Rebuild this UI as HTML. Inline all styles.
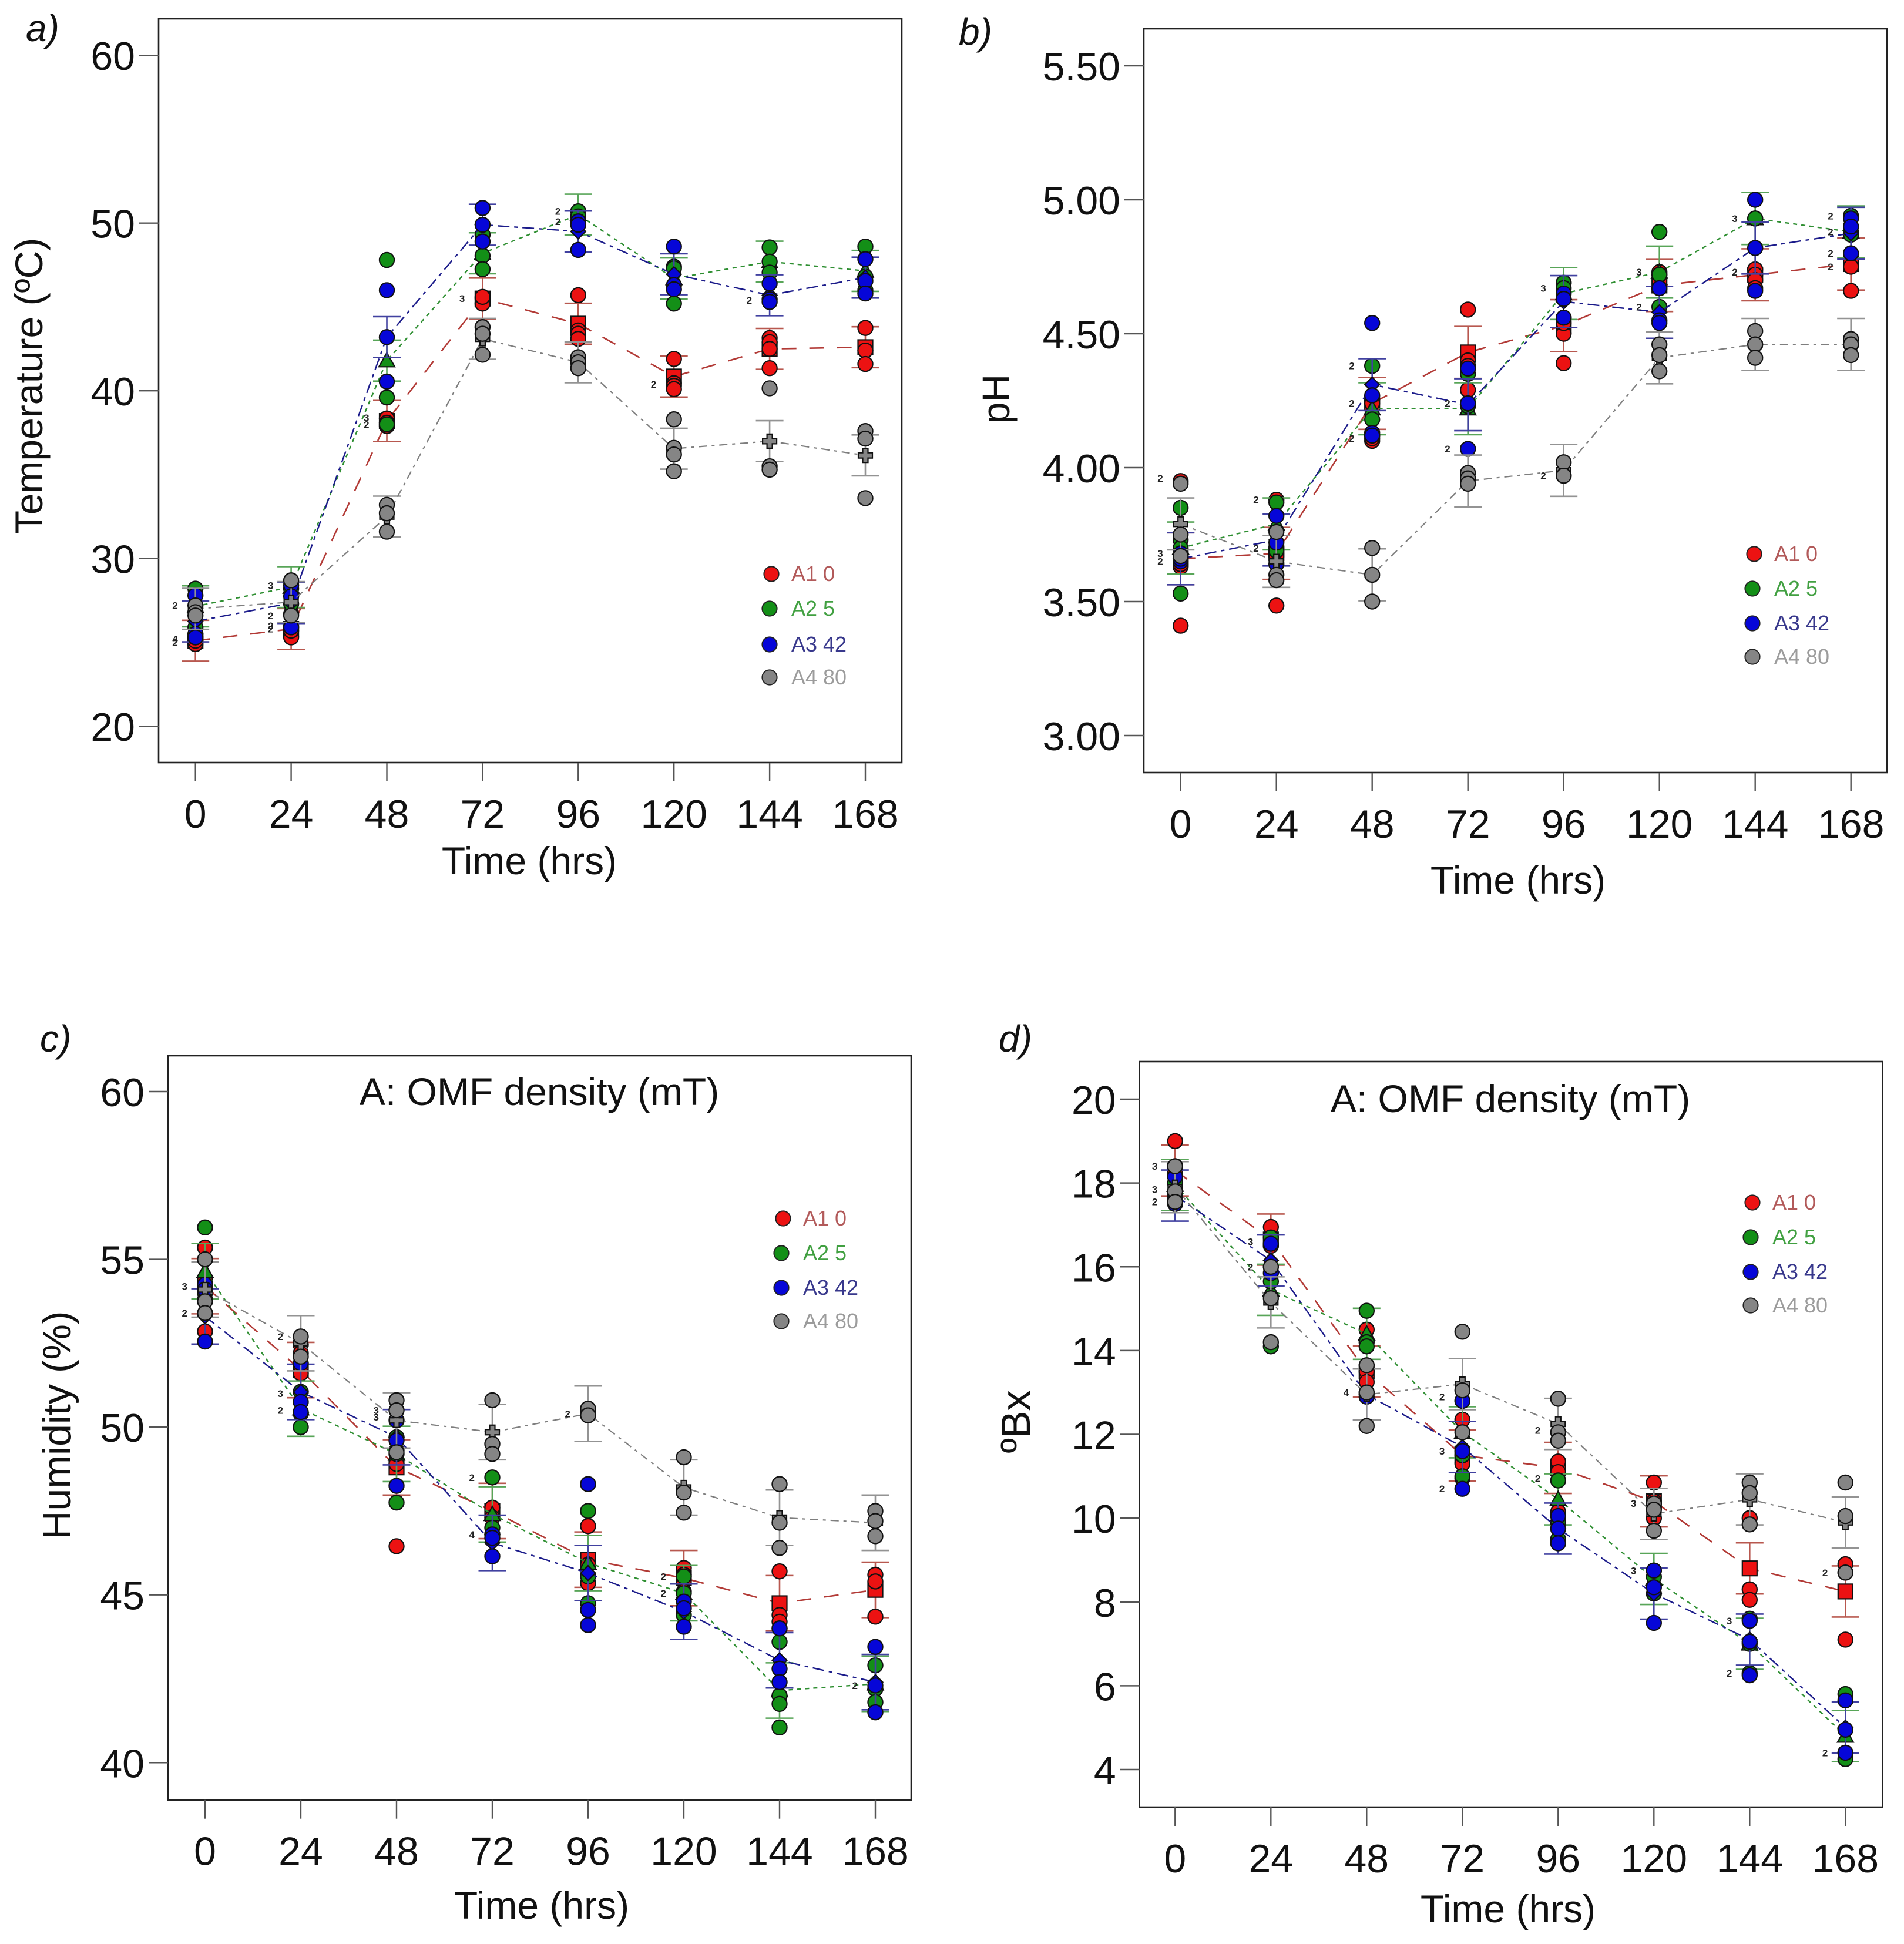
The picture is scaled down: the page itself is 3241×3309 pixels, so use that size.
<!DOCTYPE html>
<html lang="en">
<head>
<meta charset="utf-8">
<title>Composting time series</title>
<style>
html,body{margin:0;padding:0;background:#fff;}
svg{display:block;font-family:"Liberation Sans",sans-serif;}
.ttl{font-size:66px;fill:#111;}
.tag{font-size:64px;font-style:italic;fill:#111;}
</style>
</head>
<body>
<svg id="figure" xmlns="http://www.w3.org/2000/svg" width="3241" height="3309" viewBox="0 0 3241 3309">
<rect x="0" y="0" width="3241" height="3309" fill="#fff"/>
<g id="panels"></g>
<g>
<text class="tag" x="44" y="70">a)</text>
<text class="tag" x="1632" y="76">b)</text>
<text class="tag" x="68" y="1790">c)</text>
<text class="tag" x="1700" y="1790">d)</text>
<text class="ttl" text-anchor="middle" transform="translate(72,657) rotate(-90)">Temperature (ºC)</text>
<text class="ttl" text-anchor="middle" transform="translate(1718,679) rotate(-90)">pH</text>
<text class="ttl" style="font-size:68px" text-anchor="middle" transform="translate(120,2426) rotate(-90)">Humidity (%)</text>
<text class="ttl" style="font-size:70px" text-anchor="middle" transform="translate(1753,2420) rotate(-90)">ºBx</text>
<text class="ttl" text-anchor="middle" x="901" y="1488">Time (hrs)</text>
<text class="ttl" text-anchor="middle" x="2584" y="1521">Time (hrs)</text>
<text class="ttl" text-anchor="middle" x="922" y="3266">Time (hrs)</text>
<text class="ttl" text-anchor="middle" x="2567" y="3272">Time (hrs)</text>
<text class="ttl" text-anchor="middle" x="918" y="1881">A: OMF density (mT)</text>
<text class="ttl" text-anchor="middle" x="2571" y="1893">A: OMF density (mT)</text>
</g>
</svg>
<script>
// Shared categories and labels
const timeHours = [0, 24, 48, 72, 96, 120, 144, 168];
const legendLabels = ["A1 0", "A2 5", "A3 42", "A4 80"];

// Panel a: temperature
const tempTicks = [20, 30, 40, 50, 60];
const tempTickLabels = ["20", "30", "40", "50", "60"];
const tempErrorHalf = [1.22];
const tempMeanA1 = [25.1, 25.8, 38.2, 45.5, 44.0, 40.85, 42.5, 42.6];
const tempMeanA2 = [27.15, 28.3, 41.8, 48.2, 50.5, 46.7, 47.7, 47.15];
const tempMeanA3 = [26.25, 27.35, 43.2, 49.9, 49.5, 46.95, 45.7, 46.75];
const tempMeanA4 = [27.0, 27.4, 32.5, 43.1, 41.7, 36.55, 37.0, 36.15];
const tempPointsA1 = [[24.9,25.1,25.3,25.3],[25.3,25.7,25.9,26.7],[38.35,38.1,37.9],[45.5,45.2,45.6],[45.7,43.6,43.4,43.1],[41.9,40.45,40.3,40.1],[43.15,42.9,42.5,41.35],[43.75,42.4,41.6]];
const tempPointsA2 = [[28.2,25.9],[28.2,28.6,27.3],[47.8,39.6,38.0],[49.3,48.05,47.25],[50.7,50.4,50.1],[47.4,47.3,45.2],[48.55,47.7,47.05],[48.6,46.8,46.0]];
const tempPointsA3 = [[27.8,25.5,25.3],[28.4,27.75,25.9],[46.0,43.2,40.55],[50.9,49.9,48.9],[50.1,49.9,48.4],[48.6,46.3,46.05],[46.4,45.45,45.3],[47.85,46.55,45.8]];
const tempPointsA4 = [[27.2,26.8,26.6],[28.7,26.6],[33.2,32.7,31.6],[43.8,43.4,42.15],[42.0,41.7,41.35],[38.3,36.6,36.2,35.2],[40.15,35.5,35.3],[37.6,37.15,33.6]];
const tempCountTime = [0,0,0,24,24,24,24,48,48,72,96,96,120,144];
const tempCountValue = [27.2,25.2,25.0,28.4,26.6,26.0,25.8,38.4,38.0,45.5,50.7,50.1,40.4,45.4];
const tempCountText = ["2","4","2","3","2","2","2","3","2","3","2","2","2","2"];

// Panel b: pH
const phTicks = [3, 3.5, 4, 4.5, 5, 5.5];
const phTickLabels = ["3.00", "3.50", "4.00", "4.50", "5.00", "5.50"];
const phErrorHalf = [0.097];
const phMeanA1 = [3.66, 3.68, 4.24, 4.43, 4.53, 4.68, 4.72, 4.76];
const phMeanA2 = [3.70, 3.79, 4.22, 4.22, 4.65, 4.73, 4.93, 4.88];
const phMeanA3 = [3.66, 3.73, 4.31, 4.235, 4.62, 4.58, 4.82, 4.875];
const phMeanA4 = [3.79, 3.65, 3.60, 3.95, 3.99, 4.41, 4.46, 4.46];
const phPointsA1 = [[3.41,3.95,3.63,3.64],[3.485,3.88,3.68,3.67],[4.25,4.24,4.10,4.11],[4.59,4.40,4.38,4.29],[4.39,4.50,4.54,4.69],[4.73,4.72,4.67],[4.74,4.72,4.70,4.67],[4.87,4.75,4.66]];
const phPointsA2 = [[3.85,3.53,3.73,3.70],[3.87,3.70,3.69],[4.38,4.18,4.12],[4.35,4.23],[4.69,4.67,4.56],[4.88,4.72,4.60],[4.93,4.93],[4.94,4.88,4.87]];
const phPointsA3 = [[3.68,3.65,3.66],[3.82,3.72,3.64],[4.54,4.27,4.13,4.12],[4.37,4.24,4.07],[4.65,4.63,4.56],[4.67,4.55,4.54],[5.00,4.82,4.66],[4.93,4.90,4.80]];
const phPointsA4 = [[3.94,3.75,3.67],[3.76,3.60,3.58],[3.70,3.60,3.50],[3.98,3.96,3.94],[4.02,3.97,3.97],[4.46,4.42,4.36],[4.51,4.46,4.41],[4.48,4.46,4.42]];
const phCountTime = [0,0,0,24,24,48,48,48,72,72,96,96,120,120,144,144,168,168,168,168];
const phCountValue = [3.96,3.68,3.65,3.88,3.70,4.38,4.24,4.11,4.24,4.07,4.67,3.97,4.73,4.60,4.93,4.73,4.94,4.88,4.80,4.75];
const phCountText = ["2","3","2","2","2","2","2","2","2","2","3","2","3","2","3","2","2","2","2","2"];

// Panel c: humidity
const humTicks = [40, 45, 50, 55, 60];
const humTickLabels = ["40", "45", "50", "55", "60"];
const humErrorHalf = [0.825];
const humMeanA1 = [54.2, 51.7, 48.8, 47.5, 46.05, 45.5, 44.75, 45.15];
const humMeanA2 = [54.65, 50.55, 49.2, 47.4, 45.95, 45.05, 42.15, 42.35];
const humMeanA3 = [53.3, 51.05, 49.7, 46.55, 45.65, 44.5, 43.05, 42.4];
const humMeanA4 = [54.1, 52.5, 50.2, 49.85, 50.4, 48.2, 47.3, 47.15];
const humPointsA1 = [[55.35,54.4,54.2,52.85],[52.45,52.2,51.6],[49.3,48.9,46.45],[47.6,47.3,46.8],[47.05,45.9,45.35],[45.8,45.6,45.1],[45.7,44.4,44.2,44.0],[45.6,45.4,44.35]];
const humPointsA2 = [[55.95,54.0,53.8],[51.05,50.4,50.0],[49.7,49.2,47.75],[48.5,47.0,46.8],[47.5,45.55,44.75],[45.55,45.05,44.4],[43.6,42.0,41.75,41.05],[42.9,42.2,41.8]];
const humPointsA3 = [[54.25,54.1,52.55],[51.9,50.75,50.45],[50.2,49.6,48.25],[46.8,46.7,46.15],[48.3,44.55,44.1],[44.8,44.6,44.05],[44.0,42.8,42.4],[43.45,42.3,41.5]];
const humPointsA4 = [[55.0,53.75,53.4],[52.7,52.1],[50.8,50.5,49.25],[50.8,49.5,49.2],[50.55,50.35,50.35],[49.1,48.05,47.45],[48.3,47.15,46.4],[47.5,47.2,46.75]];
const humCountTime = [0,0,24,24,24,48,48,72,72,96,120,120,168];
const humCountValue = [54.2,53.4,52.7,51.0,50.5,50.5,50.3,48.5,46.8,50.4,45.55,45.05,42.3];
const humCountText = ["3","2","2","3","2","3","3","2","4","2","2","2","2"];

// Panel d: degrees Brix
const brixTicks = [4, 6, 8, 10, 12, 14, 16, 18, 20];
const brixTickLabels = ["4", "6", "8", "10", "12", "14", "16", "18", "20"];
const brixErrorHalf = [0.61];
const brixMeanA1 = [18.3, 16.65, 13.5, 11.5, 11.2, 10.4, 8.8, 8.25];
const brixMeanA2 = [17.95, 15.45, 14.4, 12.05, 10.45, 8.55, 7.0, 4.8];
const brixMeanA3 = [17.7, 16.15, 12.95, 11.7, 9.75, 8.2, 7.1, 5.0];
const brixMeanA4 = [17.9, 15.15, 12.95, 13.2, 12.25, 10.1, 10.45, 9.9];
const brixPointsA1 = [[19.0,18.3,17.6],[16.95,16.5,16.0],[14.5,13.5,13.25],[12.35,11.3,10.95],[11.35,11.1,10.15],[10.85,10.4,10.0],[10.0,8.3,8.05],[8.9,8.7,7.1]];
const brixPointsA2 = [[18.4,18.0,17.7],[16.7,15.65,14.1],[14.95,14.2,14.1],[12.8,11.5,11.0],[10.9,9.9,9.5],[8.75,8.6,8.2],[7.6,7.0,6.3],[5.8,4.4,4.25]];
const brixPointsA3 = [[18.15,17.5],[16.55,15.85],[13.0,12.9],[12.8,11.6,10.7],[10.05,9.75,9.4],[8.75,8.35,7.5],[7.55,7.05,6.25],[5.65,4.95,4.4]];
const brixPointsA4 = [[18.4,17.8,17.55],[16.0,15.25,14.2],[13.65,13.0,12.2],[14.45,13.05,12.05],[12.85,12.05,11.85],[10.35,10.2,9.7],[10.85,10.6,9.85],[10.85,10.05,8.7]];
const brixCountTime = [0,0,0,24,24,48,72,72,72,96,96,120,120,144,144,168,168];
const brixCountValue = [18.4,17.85,17.55,16.6,16.0,13.0,12.9,11.6,10.7,12.1,10.95,10.35,8.75,7.55,6.3,8.7,4.4];
const brixCountText = ["3","3","2","3","2","4","2","3","2","2","2","3","3","3","2","2","2"];

const NS = "http://www.w3.org/2000/svg";
const seriesStyle = [
  {fill:"#ec1212", line:"#b23a36", bar:"#b8584f", text:"#b25a5a", dash:"25 22", width:2.6, marker:"square"},
  {fill:"#138f17", line:"#2f8f32", bar:"#58a558", text:"#41a041", dash:"7 7", width:2.4, marker:"triangle"},
  {fill:"#0606d8", line:"#1b1b8a", bar:"#4141a0", text:"#38388c", dash:"20 8 6 8", width:2.4, marker:"diamond"},
  {fill:"#858585", line:"#7e7e7e", bar:"#939393", text:"#9c9c9c", dash:"14 8 5 8", width:2.2, marker:"plus"}
];

function make(tag, attrs, parent, name) {
  const el = document.createElementNS(NS, tag);
  for (const k in attrs) el.setAttribute(k, attrs[k]);
  
  
  parent.appendChild(el);
  return el;
}

function drawMarker(kind, cx, cy, fill, parent, name) {
  const s = 12.5;
  const common = {fill: fill, stroke: "#111", "stroke-width": 2.2};
  if (kind === "square") {
    make("rect", Object.assign({x: cx - s, y: cy - s, width: 2 * s, height: 2 * s}, common), parent, name);
  } else if (kind === "triangle") {
    const pts = [cx, cy - s - 1, cx + s + 1, cy + s - 2, cx - s - 1, cy + s - 2].join(",");
    make("polygon", Object.assign({points: pts}, common), parent, name);
  } else if (kind === "diamond") {
    const pts = [cx, cy - s, cx + s, cy, cx, cy + s, cx - s, cy].join(",");
    make("polygon", Object.assign({points: pts}, common), parent, name);
  } else {
    const a = 12, b = 4.5;
    const d = "M" + (cx - b) + " " + (cy - a) + "h" + (2 * b) + "v" + (a - b) + "h" + (a - b) + "v" + (2 * b) + "h" + (b - a) + "v" + (a - b) + "h" + (-2 * b) + "v" + (b - a) + "h" + (b - a) + "v" + (-2 * b) + "h" + (a - b) + "z";
    make("path", Object.assign({d: d}, common), parent, name);
  }
}

function drawPanel(cfg) {
  const root = document.getElementById("panels");
  const g = make("g", {}, root, "panel-" + cfg.id);
  const xScale = t => cfg.x0 + (t / 168) * (cfg.x168 - cfg.x0);
  const yScale = v => cfg.yA + (v - cfg.vA) / (cfg.vB - cfg.vA) * (cfg.yB - cfg.yA);

  make("rect", {x: cfg.left, y: cfg.top, width: cfg.right - cfg.left, height: cfg.bottom - cfg.top, fill: "#fff", stroke: "#222", "stroke-width": 2.6}, g, "plot-frame-" + cfg.id);

  cfg.yTicks.forEach((v, i) => {
    const y = yScale(v);
    make("line", {x1: cfg.left - 33, x2: cfg.left, y1: y, y2: y, stroke: "#555", "stroke-width": 2.4}, g, "y-tick-" + cfg.id);
    const t = make("text", {x: cfg.left - 40, y: y + 25, "text-anchor": "end", "font-size": 68, fill: "#111"}, g, "y-tick-label-" + cfg.id);
    t.textContent = cfg.yLabels[i];
  });
  timeHours.forEach(h => {
    const x = xScale(h);
    make("line", {x1: x, x2: x, y1: cfg.bottom, y2: cfg.bottom + 32, stroke: "#555", "stroke-width": 2.4}, g, "x-tick-" + cfg.id);
    const t = make("text", {x: x, y: cfg.bottom + 111, "text-anchor": "middle", "font-size": 68, fill: "#111"}, g, "x-tick-label-" + cfg.id);
    t.textContent = String(h);
  });

  cfg.series.forEach((s, si) => {
    const st = seriesStyle[si];
    const sg = make("g", {}, g, "series-a" + (si + 1) + "-" + cfg.id);
    const half = cfg.errorHalf[0];
    s.mean.forEach((m, i) => {
      const x = xScale(timeHours[i]), yHi = yScale(m + half), yLo = yScale(m - half);
      make("line", {x1: x, x2: x, y1: yHi, y2: yLo, stroke: st.bar, "stroke-width": 2.6}, sg, "error-bar-stem");
      make("line", {x1: x - 23.5, x2: x + 23.5, y1: yHi, y2: yHi, stroke: st.bar, "stroke-width": 2.6}, sg, "error-bar-cap-upper");
      make("line", {x1: x - 23.5, x2: x + 23.5, y1: yLo, y2: yLo, stroke: st.bar, "stroke-width": 2.6}, sg, "error-bar-cap-lower");
    });
    const pts = s.mean.map((m, i) => xScale(timeHours[i]) + "," + yScale(m)).join(" ");
    make("polyline", {points: pts, fill: "none", stroke: st.line, "stroke-width": st.width, "stroke-dasharray": st.dash}, sg, "mean-line");
    s.mean.forEach((m, i) => {
      drawMarker(st.marker, xScale(timeHours[i]), yScale(m), st.fill, sg, "mean-marker");
    });
    s.points.forEach((arr, i) => {
      arr.forEach(v => {
        make("circle", {cx: xScale(timeHours[i]), cy: yScale(v), r: 12.6, fill: st.fill, stroke: "#111", "stroke-width": 2.2}, sg, "data-point");
      });
    });
  });

  cfg.countTime.forEach((h, i) => {
    const t = make("text", {x: xScale(h) - 30, y: yScale(cfg.countValue[i]) + 6, "text-anchor": "end", "font-size": 17, "font-weight": "bold", fill: "#222"}, g, "overlap-count-label");
    t.textContent = cfg.countText[i];
  });

  legendLabels.forEach((label, i) => {
    const y = cfg.legendY[i];
    const cx = cfg.legendX + (i === 0 ? 3 : 0);
    make("circle", {cx: cx, cy: y, r: 12.6, fill: seriesStyle[i].fill, stroke: "#222", "stroke-width": 2}, g, "legend-marker");
    const t = make("text", {x: cfg.legendX + 37, y: y + 12, "font-size": 36, fill: seriesStyle[i].text}, g, "legend-label");
    t.textContent = label;
  });
}

drawPanel({id:"a", left:270, right:1535, top:32, bottom:1298, x0:332.7, x168:1473, vA:30, yA:950.7, vB:60, yB:94.2,
  yTicks:tempTicks, yLabels:tempTickLabels, errorHalf:tempErrorHalf,
  series:[{mean:tempMeanA1,points:tempPointsA1},{mean:tempMeanA2,points:tempPointsA2},{mean:tempMeanA3,points:tempPointsA3},{mean:tempMeanA4,points:tempPointsA4}],
  countTime:tempCountTime, countValue:tempCountValue, countText:tempCountText, legendX:1310, legendY:[977,1036,1097,1153]});
drawPanel({id:"b", left:1947, right:3212, top:49, bottom:1315, x0:2009.7, x168:3150.7, vA:3, yA:1252, vB:5.5, yB:112,
  yTicks:phTicks, yLabels:phTickLabels, errorHalf:phErrorHalf,
  series:[{mean:phMeanA1,points:phPointsA1},{mean:phMeanA2,points:phPointsA2},{mean:phMeanA3,points:phPointsA3},{mean:phMeanA4,points:phPointsA4}],
  countTime:phCountTime, countValue:phCountValue, countText:phCountText, legendX:2983, legendY:[943,1002,1061,1118]});
drawPanel({id:"c", left:286, right:1551, top:1797, bottom:3063.7, x0:349, x168:1490, vA:40, yA:3000.3, vB:60, yB:1858,
  yTicks:humTicks, yLabels:humTickLabels, errorHalf:humErrorHalf,
  series:[{mean:humMeanA1,points:humPointsA1},{mean:humMeanA2,points:humPointsA2},{mean:humMeanA3,points:humPointsA3},{mean:humMeanA4,points:humPointsA4}],
  countTime:humCountTime, countValue:humCountValue, countText:humCountText, legendX:1330, legendY:[2074,2133,2192,2249]});
drawPanel({id:"d", left:1939.7, right:3204.7, top:1807, bottom:3076, x0:2000.3, x168:3141.3, vA:4, yA:3012, vB:20, yB:1871,
  yTicks:brixTicks, yLabels:brixTickLabels, errorHalf:brixErrorHalf,
  series:[{mean:brixMeanA1,points:brixPointsA1},{mean:brixMeanA2,points:brixPointsA2},{mean:brixMeanA3,points:brixPointsA3},{mean:brixMeanA4,points:brixPointsA4}],
  countTime:brixCountTime, countValue:brixCountValue, countText:brixCountText, legendX:2980, legendY:[2047,2106,2165,2222]});
</script>
</body>
</html>
